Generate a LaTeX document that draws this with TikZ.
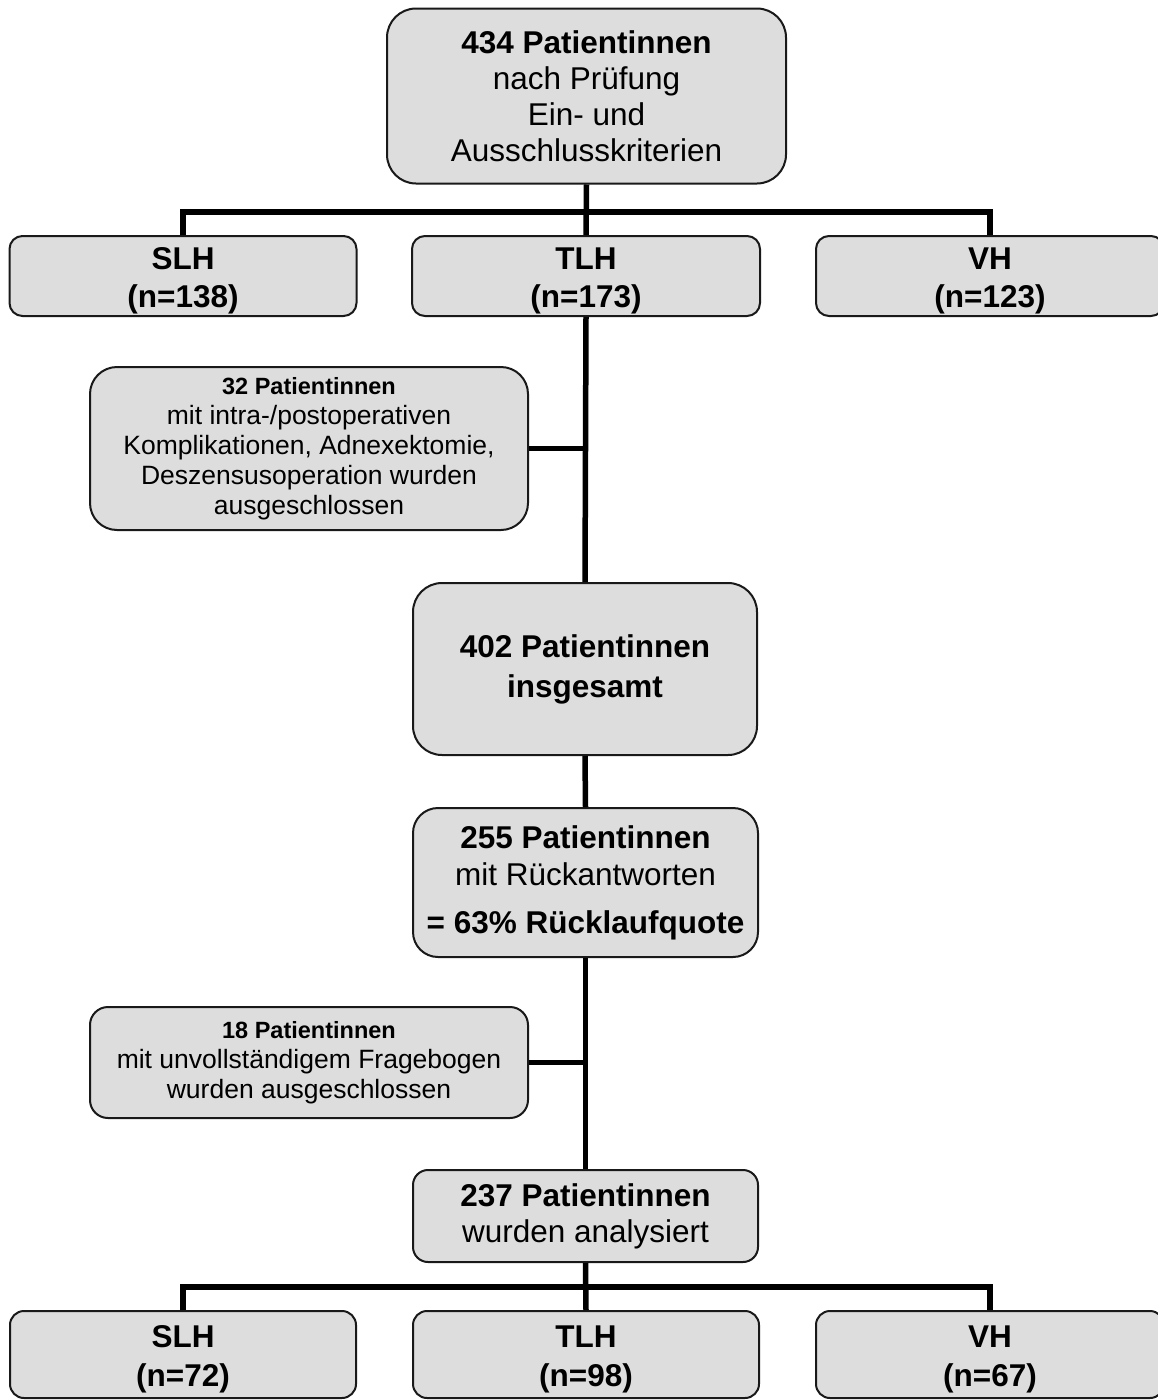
\documentclass[tikz,border=0pt]{standalone}
\usepackage{fontspec}
\setmainfont{Liberation Sans}
\newcommand{\toppad}{\rule{0pt}{32pt}}
\begin{document}
\begin{tikzpicture}[x=1pt,y=-1pt,
  box/.style={draw=black!90, line width=2pt, fill=boxgray, inner sep=0pt, align=center},
  big/.style={font=\fontsize{31.5}{36}\selectfont},
  grp/.style={font=\fontsize{31.5}{38.5}\selectfont},
  small/.style={font=\fontsize{26.5}{30}\selectfont},
  conn/.style={line width=5.5pt, draw=black}]
\definecolor{boxgray}{HTML}{DDDDDD}
\useasboundingbox (0,0) rectangle (1158,1400);
\clip (0,0) rectangle (1158,1400);
\fill[white] (0,0) rectangle (1158,1400);

% nodes
\node[box, big, minimum width=399pt, minimum height=175pt, rounded corners=29pt] (top) at (586.5,96)
  {\textbf{434 Patientinnen}\\nach Prüfung\\Ein- und\\Ausschlusskriterien};
\path (top.north) ++(0,1.5) coordinate (topn);

\node[box, grp, minimum width=347pt, minimum height=80pt, rounded corners=13pt] (slh1) at (183,276) {\toppad\textbf{SLH}\\\textbf{(n=138)}};
\node[box, grp, minimum width=348pt, minimum height=80pt, rounded corners=13pt] (tlh1) at (586,276) {\toppad\textbf{TLH}\\\textbf{(n=173)}};
\node[box, grp, minimum width=348pt, minimum height=80pt, rounded corners=13pt] (vh1) at (990,276) {\toppad\textbf{VH}\\\textbf{(n=123)}};

\node[box, small, minimum width=438pt, minimum height=163pt, rounded corners=27pt] (ex1) at (309,448.5)
  {{\fontsize{23.5}{30}\selectfont\textbf{32 Patientinnen}}\\mit intra-/postoperativen\\Komplikationen, Adnexektomie,\\Deszensusoperation wurden\\ausgeschlossen};

\node[box, big, minimum width=344pt, minimum height=172pt, rounded corners=29pt, font=\fontsize{31.5}{40}\selectfont] (p402) at (585,669)
  {\textbf{402 Patientinnen}\\\textbf{insgesamt}};

\node[box, big, minimum width=345pt, minimum height=149pt, rounded corners=25pt, font=\fontsize{31.5}{37}\selectfont] (p255) at (585.5,882.5)
  {\textbf{255 Patientinnen}\\mit Rückantworten\\[11pt]\textbf{= 63\% Rücklaufquote}};

\node[box, small, minimum width=438pt, minimum height=111pt, rounded corners=18pt] (ex2) at (309,1062.5)
  {{\fontsize{23.5}{30}\selectfont\textbf{18 Patientinnen}}\\mit unvollständigem Fragebogen\\wurden ausgeschlossen};

\node[box, big, minimum width=345pt, minimum height=92pt, rounded corners=15pt] (p237) at (585.5,1216)
  {\textbf{237 Patientinnen}\\wurden analysiert};

\node[box, grp, minimum width=346pt, minimum height=87pt, rounded corners=14pt] (slh2) at (183,1354.5) {\toppad\textbf{SLH}\\\textbf{(n=72)}};
\node[box, grp, minimum width=346pt, minimum height=87pt, rounded corners=14pt] (tlh2) at (586,1354.5) {\toppad\textbf{TLH}\\\textbf{(n=98)}};
\node[box, grp, minimum width=348pt, minimum height=87pt, rounded corners=14pt] (vh2) at (990,1354.5) {\toppad\textbf{VH}\\\textbf{(n=67)}};

% connectors
\coordinate (bar1) at (586,212);
\coordinate (bar2) at (586,1287);
\draw[conn] (top.south) -- (tlh1.north);
\draw[conn] (slh1.north) -- (slh1.north |- bar1) -- (vh1.north |- bar1) -- (vh1.north);
\draw[conn] (tlh1.south) -- (p402.north);
\draw[conn] (ex1.east) -- (ex1.east -| tlh1.south);
\draw[conn] (p402.south) -- (p255.north);
\draw[conn] (p255.south) -- (p237.north);
\draw[conn] (ex2.east) -- (ex2.east -| p255.south);
\draw[conn] (p237.south) -- (tlh2.north);
\draw[conn] (slh2.north) -- (slh2.north |- bar2) -- (vh2.north |- bar2) -- (vh2.north);
\end{tikzpicture}
\end{document}
